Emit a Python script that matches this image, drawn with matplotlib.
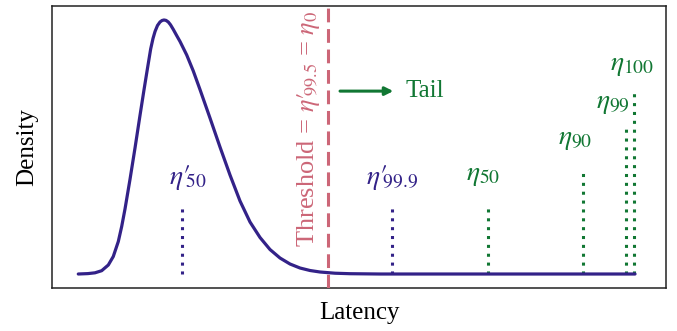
import matplotlib
matplotlib.use("Agg")
import matplotlib.pyplot as plt

plt.rcParams['font.family'] = ['Liberation Serif', 'DejaVu Serif']
plt.rcParams['mathtext.fontset'] = 'stix'

# Density curve (latency in arbitrary units 0-100, density normalised to peak = 1)
curve_x = [4.28, 5.86, 7.00, 8.09, 9.17, 9.98, 10.80, 11.35, 11.89, 12.70, 13.52,
           14.33, 14.98, 15.52, 16.07, 16.45, 16.78, 17.18, 17.59, 17.92, 18.24,
           18.57, 18.94, 19.30, 19.76, 20.28, 20.85, 21.94, 23.01, 24.10, 25.73,
           27.36, 28.99, 30.62, 32.25, 33.88, 35.50, 37.13, 38.76, 40.39, 42.02,
           43.65, 46.09, 48.53, 53.42, 94.95]
curve_y = [0.0, 0.0016, 0.0047, 0.0130, 0.0354, 0.0689, 0.1280, 0.1870, 0.2559,
           0.3720, 0.4961, 0.6240, 0.7244, 0.8051, 0.8858, 0.9272, 0.9547, 0.9783,
           0.9921, 0.9980, 1.0, 0.9984, 0.9921, 0.9811, 0.9626, 0.9398, 0.9154,
           0.8622, 0.7992, 0.7264, 0.6142, 0.5, 0.3898, 0.2874, 0.2047, 0.1437,
           0.0965, 0.0630, 0.0394, 0.0236, 0.0138, 0.0079, 0.0031, 0.0012, 0.0, 0.0]

threshold_x = 44.95
threshold_label = r"Threshold = $\eta\prime_{\!\!99.5}$ = $\eta_0$"

# Percentile markers
pct_labels = [r"$\eta\prime_{\!\!50}$", r"$\eta\prime_{\!\!99.9}$", r"$\eta_{50}$",
              r"$\eta_{90}$", r"$\eta_{99}$", r"$\eta_{100}$"]
pct_x = [21.17, 55.42, 71.0, 86.43, 93.40, 94.84]
pct_top = [0.275, 0.275, 0.275, 0.409, 0.573, 0.714]
pct_label_x = [22.07, 55.42, 70.28, 85.18, 91.37, 94.38]
pct_label_y = [0.322, 0.322, 0.338, 0.479, 0.621, 0.770]
pct_group = ["head", "head", "tail", "tail", "tail", "tail"]

tail_arrow_x = [46.91, 55.59]
tail_arrow_y = 0.720
tail_text_x = 57.49
tail_text_y = 0.695

INDIGO = "#332288"
GREEN = "#117733"
ROSE = "#CC6677"

fig = plt.figure(figsize=(6.77, 3.31), dpi=100)
ax = fig.add_axes([0.0768, 0.1299, 0.9838 - 0.0768, 0.9819 - 0.1299])

for lab, x, top, lx, ly, grp in zip(pct_labels, pct_x, pct_top, pct_label_x,
                                     pct_label_y, pct_group):
    col = INDIGO if grp == "head" else GREEN
    ax.plot([x, x], [0, top], color=col, lw=2.2, linestyle=(0, (1, 1.9)),
            dash_capstyle='butt', zorder=2)
    ax.text(lx, ly, lab, color=col, fontsize=20, ha='center', va='bottom')

ax.plot(curve_x, curve_y, color=INDIGO, lw=2.3, solid_joinstyle='round',
        solid_capstyle='round', zorder=3)

ax.axvline(threshold_x, color=ROSE, lw=2.2, linestyle=(0, (4.5, 2.2)), zorder=4)
ax.text(41.7, 0.570, threshold_label, rotation=90, color=ROSE, fontsize=19,
        ha='center', va='center')

ax.annotate("", xy=(tail_arrow_x[1], tail_arrow_y), xytext=(tail_arrow_x[0], tail_arrow_y),
            arrowprops=dict(arrowstyle='-|>', color=GREEN, lw=2.2,
                            mutation_scale=12, shrinkA=0, shrinkB=0))
ax.text(tail_text_x, tail_text_y, "Tail", color=GREEN, fontsize=18, ha='left',
        va='baseline')

ax.set_xlim(0, 100)
ax.set_ylim(-0.0551, 1.0551)
ax.set_xticks([])
ax.set_yticks([])
for s in ax.spines.values():
    s.set_linewidth(1.1)
    s.set_color('#222222')
ax.set_xlabel("Latency", fontsize=18, labelpad=10)
ax.set_ylabel("Density", fontsize=18, labelpad=10)

fig.savefig("out.png", dpi=100)
